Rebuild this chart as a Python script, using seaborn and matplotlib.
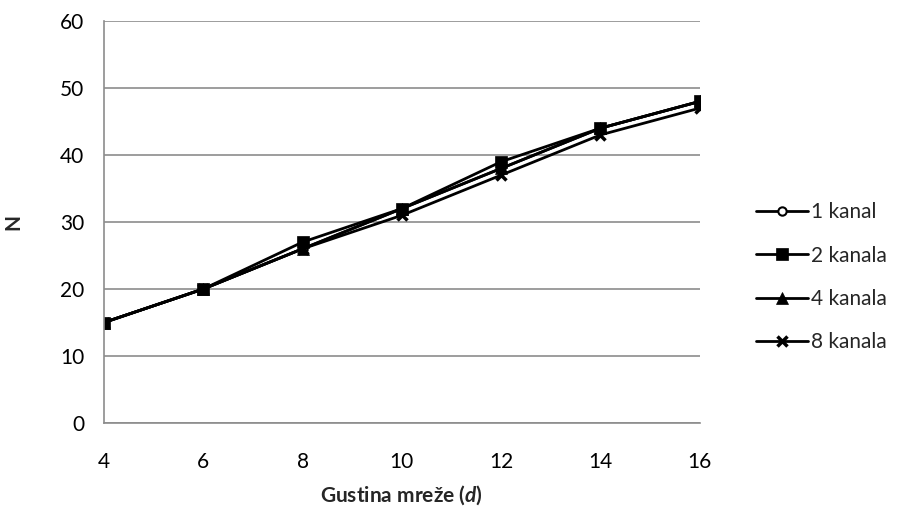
import matplotlib
matplotlib.use("Agg")
import matplotlib.pyplot as plt
import seaborn as sns
import pandas as pd

# Network density (x) and number of nodes N per channel configuration
density = [4, 6, 8, 10, 12, 14, 16]
n_1_kanal = [15, 20, 26, 32, 38, 44, 48]
n_2_kanala = [15, 20, 27, 32, 39, 44, 48]
n_4_kanala = [15, 20, 26, 32, 38, 44, 48]
n_8_kanala = [15, 20, 26, 31, 37, 43, 47]
series_names = ["1 kanal", "2 kanala", "4 kanala", "8 kanala"]
y_ticks = [0, 10, 20, 30, 40, 50, 60]

rows = []
for name, vals in zip(series_names, [n_1_kanal, n_2_kanala, n_4_kanala, n_8_kanala]):
    for x, v in zip(density, vals):
        rows.append({"d": x, "N": v, "serija": name})
df = pd.DataFrame(rows)

sns.set_theme(style="white")
plt.rcParams["font.family"] = ["Lato", "DejaVu Sans"]
plt.rcParams["mathtext.fontset"] = "custom"
plt.rcParams["mathtext.bfit"] = "Lato:bold:italic"

FS = 15

fig = plt.figure(figsize=(9.04, 5.31), dpi=100)
ax = fig.add_axes([0.115, 0.2034, 0.659, 0.757])

markers = {"1 kanal": "o", "2 kanala": "s", "4 kanala": "^", "8 kanala": "X"}
palette = {n: "black" for n in series_names}
sns.lineplot(data=df, x="d", y="N", hue="serija", style="serija",
             markers=markers, dashes=False, palette=palette,
             linewidth=2, markersize=8, markeredgecolor="black",
             legend=False, ax=ax)

# open circle for the first series
line0 = ax.lines[0]
line0.set_markerfacecolor("white")
line0.set_markeredgewidth(1.5)
line0.set_markersize(6)
for ln in ax.lines[1:]:
    ln.set_markeredgewidth(0.5)
ax.lines[3].set_marker("x")
ax.lines[3].set_markeredgewidth(2.5)
ax.lines[3].set_markersize(7)

ax.set_xlim(4, 16)
ax.set_ylim(0, 60)
ax.set_xticks(density)
ax.set_yticks(y_ticks)
ax.grid(axis="y", color="#8c8c8c", linewidth=1.2)
ax.grid(axis="x", visible=False)
for side in ["top", "right"]:
    ax.spines[side].set_visible(False)
for side in ["left", "bottom"]:
    ax.spines[side].set_color("#8c8c8c")
    ax.spines[side].set_linewidth(1.2)
ax.tick_params(axis="both", which="major", direction="out", length=6,
               width=1.2, color="#8c8c8c", labelsize=FS, labelcolor="black")
ax.tick_params(axis="x", pad=15)
ax.tick_params(axis="y", pad=8)
ax.set_axisbelow(True)

ax.set_xlabel("Gustina mreže ($\\mathbfit{d}$)", fontsize=FS, fontweight="bold")
ax.set_ylabel("N", fontsize=FS, fontweight="bold")
ax.xaxis.set_label_coords(0.5, -0.149)
ax.yaxis.set_label_coords(-0.135, 0.5)

handles = [plt.Line2D([], [], color=ln.get_color(), linewidth=2,
                      marker=ln.get_marker(), markersize=ln.get_markersize(),
                      markerfacecolor=ln.get_markerfacecolor(),
                      markeredgecolor="black",
                      markeredgewidth=ln.get_markeredgewidth())
           for ln in ax.lines[:4]]
fig.legend(handles, series_names, loc="center left",
           bbox_to_anchor=(0.815, 0.478), frameon=False, fontsize=FS,
           handlelength=2.5, handletextpad=0.15, labelspacing=1.12)

fig.savefig("out.png", dpi=100)
